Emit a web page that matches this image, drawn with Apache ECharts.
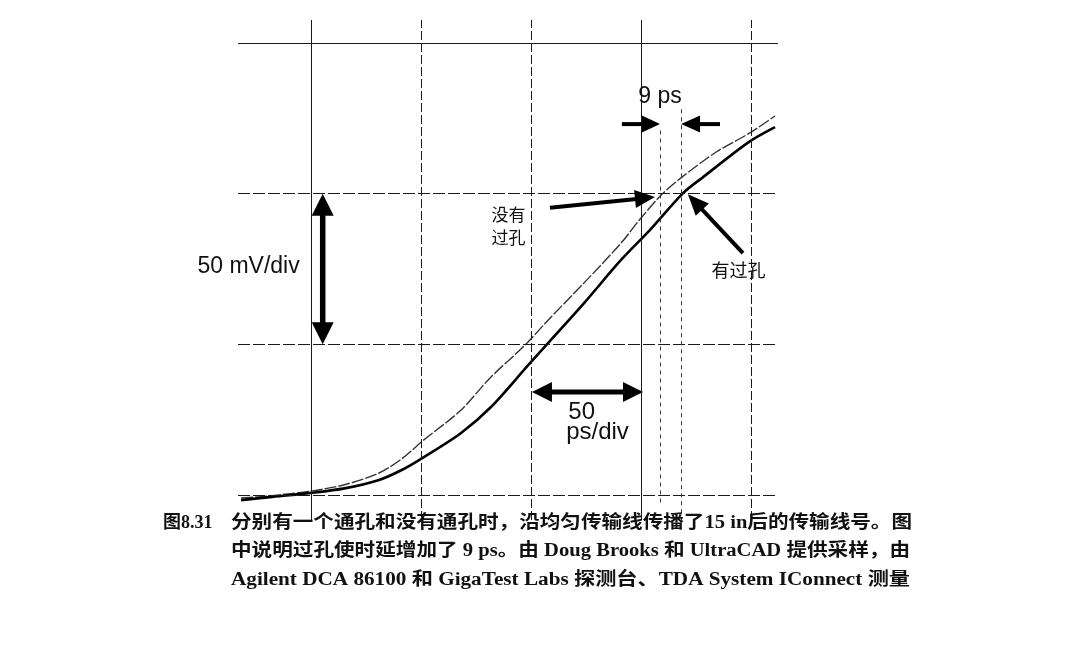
<!DOCTYPE html>
<html><head><meta charset="utf-8">
<script src="https://cdn.jsdelivr.net/npm/echarts@6/dist/echarts.min.js"></script>
<style>html,body{margin:0;padding:0;background:#fff}#c{width:1066px;height:662px}</style>
</head><body><div id="c"></div>
<script>
// ---- data (time in ps, voltage in mV) ----
const viaTime   = [-32, -18.9, -0.2, 15, 30.7, 41, 51.1, 68.0, 81.6, 98.4, 107.0, 123.9, 140.7, 153.9, 168.9, 178.0, 198.9, 210.7];
const viaMv     = [-1.7, -0.7, 0.7, 2.2, 5.0, 8.3, 12.6, 20.6, 29.2, 43.0, 50.0, 63.7, 78.0, 88.0, 100.2, 105.5, 117.2, 122.1];
const noViaTime = [-32, -18.9, -0.2, 15, 30.7, 41, 51.1, 68.0, 81.6, 96.6, 107.0, 123.9, 140.7, 149.3, 159.3, 168.4, 184.3, 198.9, 210.7];
const noViaMv   = [-1.0, -0.3, 1.3, 3.4, 7.3, 12.0, 18.3, 28.2, 39.2, 49.4, 57.6, 70.4, 83.6, 91.5, 99.8, 105.5, 114.0, 120.0, 125.8];
const xGridPs = [0, 50, 100, 150, 200];
const yGridMv = [0, 50, 100, 150];
const markerPs = [158.5, 168];
const labelNoVia = ['没有', '过孔'];
const labelVia = '有过孔';
const captionLabel = '图8.31';
const captionLines = [
  '分别有一个通孔和没有通孔时，沿均匀传输线传播了15 in后的传输线号。图',
  '中说明过孔使时延增加了 9 ps。由 Doug Brooks 和 UltraCAD 提供采样，由',
  'Agilent DCA 86100 和 GigaTest Labs 探测台、TDA System IConnect 测量'
];

const X_MIN = -33.4, X_MAX = 212.05, Y_MIN = -8.3, Y_MAX = 157.65;
const zip = (a, b) => a.map((v, i) => [v, b[i]]);
const chart = echarts.init(document.getElementById('c'));

const solidX = [0, 150];
const gridLines = [];
xGridPs.forEach(v => gridLines.push({xAxis: v, lineStyle: {type: solidX.includes(v) ? 'solid' : [9, 3], color: '#1a1a1a', width: 1}}));
yGridMv.forEach(v => gridLines.push({yAxis: v, lineStyle: {type: (v === 150) ? 'solid' : [12, 3], color: '#1a1a1a', width: 1}}));
const markerLines = [
  [{coord: [markerPs[0], 121]}, {coord: [markerPs[0], -3]}],
  [{coord: [markerPs[1], 128]}, {coord: [markerPs[1], Y_MIN]}]
];

chart.setOption({
  animation: false,
  backgroundColor: '#fff',
  grid: {left: 238, right: 288, top: 20, bottom: 142},
  xAxis: {type: 'value', min: X_MIN, max: X_MAX, show: false, splitLine: {show: false}},
  yAxis: {type: 'value', min: Y_MIN, max: Y_MAX, show: false, splitLine: {show: false}},
  series: [
    {
      name: 'grid', type: 'line', data: [], silent: true,
      markLine: {silent: true, symbol: 'none', label: {show: false}, data: gridLines,
        lineStyle: {color: '#1a1a1a', width: 1}}
    },
    {
      name: 'markers', type: 'line', data: [], silent: true,
      markLine: {silent: true, symbol: 'none', label: {show: false}, data: markerLines,
        lineStyle: {color: '#333', width: 1, type: [4, 4]}}
    },
    {
      name: '没有过孔', type: 'line', data: zip(noViaTime, noViaMv), smooth: 0.3, showSymbol: false,
      lineStyle: {color: '#333', width: 1.4, type: [12, 2]}, z: 3
    },
    {
      name: '有过孔', type: 'line', data: zip(viaTime, viaMv), smooth: 0.3, showSymbol: false,
      lineStyle: {color: '#000', width: 2.6}, z: 4
    }
  ]
});

const px = (t, v) => chart.convertToPixel({gridIndex: 0}, [t, v]);

function head(tip, dir, len, w) {
  const bx = tip[0] - dir[0] * len, by = tip[1] - dir[1] * len;
  const nx = -dir[1], ny = dir[0];
  return {type: 'polygon', shape: {points: [tip, [bx + nx * w / 2, by + ny * w / 2], [bx - nx * w / 2, by - ny * w / 2]]},
    style: {fill: '#000'}, z: 100};
}
function arrow(a, b, len, w, shaft, both) {
  const p1 = px(a[0], a[1]), p2 = px(b[0], b[1]);
  const dx = p2[0] - p1[0], dy = p2[1] - p1[1], L = Math.hypot(dx, dy);
  const d = [dx / L, dy / L];
  const s1 = both ? [p1[0] + d[0] * len * 0.8, p1[1] + d[1] * len * 0.8] : p1;
  const s2 = [p2[0] - d[0] * len * 0.8, p2[1] - d[1] * len * 0.8];
  const els = [{type: 'line', shape: {x1: s1[0], y1: s1[1], x2: s2[0], y2: s2[1]}, style: {stroke: '#000', lineWidth: shaft}, z: 100},
    head(p2, d, len, w)];
  if (both) els.push(head(p1, [-d[0], -d[1]], len, w));
  return els;
}
function text(str, t, v, size, family, align) {
  const p = px(t, v);
  return {type: 'text', z: 101, style: {text: str, x: p[0], y: p[1], font: size + 'px ' + family, fill: '#111',
    align: align || 'center', verticalAlign: 'middle', textAlign: align || 'center', textVerticalAlign: 'middle'}};
}
const sans = "'Liberation Sans', Arial, sans-serif";
const cjk = "'Noto Sans CJK SC', sans-serif";
const capFont = "'Liberation Serif', 'Noto Sans CJK SC', serif";

const ctx = document.createElement('canvas').getContext('2d');
function capText(str, x, y, size, targetW) {
  const font = 'bold ' + size + 'px ' + capFont;
  ctx.font = font;
  const w = ctx.measureText(str).width;
  const sx = targetW ? targetW / w : 1;
  return {type: 'text', x: x, y: y, scaleX: sx, z: 101,
    style: {text: str, x: 0, y: 0, font: font, fill: '#111', align: 'left', verticalAlign: 'middle', textAlign: 'left', textVerticalAlign: 'middle'}};
}

const g = [];
g.push(...arrow([5.1, 50], [5.1, 100], 22, 22, 5.5, true));
g.push(...arrow([100.2, 34.2], [150.7, 34.2], 20, 20, 5, true));
g.push(...arrow([141.1, 123.1], [158.4, 123.1], 18, 17, 4));
g.push(...arrow([185.7, 123.1], [168, 123.1], 19, 17, 4));
g.push(...arrow([108.4, 95.3], [156.1, 98.9], 20, 18, 4));
g.push(...arrow([196.1, 80.3], [171.1, 99.8], 21, 18, 4));
g.push(text('9 ps', 158.4, 132.1, 23, sans));
g.push(text('50 mV/div', -28.6, 75.8, 23, sans));
g.push(text('50', 122.8, 27.5, 24, sans));
g.push(text('ps/div', 130, 20.7, 24, sans));
g.push(text(labelNoVia[0], 89.5, 93.1, 17, cjk));
g.push(text(labelNoVia[1], 89.5, 85.5, 17, cjk));
g.push(text(labelVia, 194.1, 74.5, 18, cjk));
g.push(capText(captionLabel, 163, 523, 18, 0));
g.push(capText(captionLines[0], 231, 523, 18, 681));
g.push(capText(captionLines[1], 231, 551, 18, 679));
g.push(capText(captionLines[2], 231, 580, 18, 679));
chart.setOption({graphic: {elements: g}});
</script></body></html>
